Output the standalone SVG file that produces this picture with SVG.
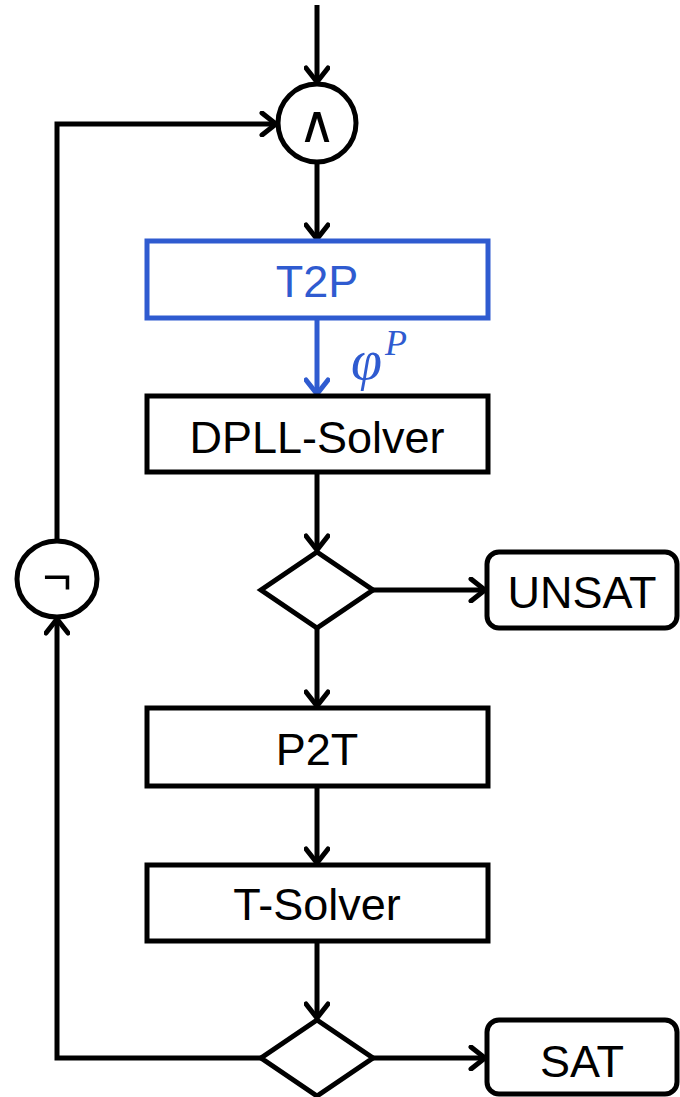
<svg xmlns="http://www.w3.org/2000/svg" width="680" height="1097" viewBox="0 0 680 1097">
<defs>
<marker id="ah" markerWidth="22" markerHeight="26" viewBox="0 0 22 26" refX="18" refY="13" orient="auto" markerUnits="userSpaceOnUse"><path d="M4,2 L18,13 L4,24" fill="none" stroke="#000" stroke-width="5" stroke-linecap="round" stroke-linejoin="miter"/></marker>
<marker id="ahb" markerWidth="22" markerHeight="26" viewBox="0 0 22 26" refX="18" refY="13" orient="auto" markerUnits="userSpaceOnUse"><path d="M4,2 L18,13 L4,24" fill="none" stroke="#2F5BD0" stroke-width="5" stroke-linecap="round"/></marker>
</defs>
<style>
.s{fill:#fff;stroke:#000;stroke-width:5}
.l{fill:none;stroke:#000;stroke-width:5}
.t{font-family:"Liberation Sans",Arial,sans-serif;font-size:45px;fill:#000;text-anchor:middle}
</style>
<rect width="680" height="1097" fill="#fff"/>
<g id="connectors">
<line class="l" x1="317" y1="5" x2="317" y2="82" marker-end="url(#ah)"/>
<line class="l" x1="317" y1="164" x2="317" y2="239" marker-end="url(#ah)"/>
<line x1="317" y1="320" x2="317" y2="394" stroke="#2F5BD0" stroke-width="5" marker-end="url(#ahb)"/>
<line class="l" x1="317" y1="474" x2="317" y2="550" marker-end="url(#ah)"/>
<line class="l" x1="373" y1="590" x2="485" y2="590" marker-end="url(#ah)"/>
<line class="l" x1="317" y1="628" x2="317" y2="706" marker-end="url(#ah)"/>
<line class="l" x1="317" y1="786" x2="317" y2="863" marker-end="url(#ah)"/>
<line class="l" x1="317" y1="942" x2="317" y2="1018" marker-end="url(#ah)"/>
<line class="l" x1="373" y1="1058" x2="485" y2="1058" marker-end="url(#ah)"/>
<polyline class="l" points="261,1058 57,1058 57,619" marker-end="url(#ah)"/>
<polyline class="l" points="57,539 57,124 276,124" marker-end="url(#ah)"/>
</g>
<g id="and">
<circle class="s" cx="317" cy="123" r="39"/>
<text x="317" y="142" font-family="DejaVu Sans,sans-serif" font-size="52" text-anchor="middle">∧</text>
</g>
<g id="t2p">
<rect x="147" y="241" width="341" height="77" fill="#fff" stroke="#2F5BD0" stroke-width="5"/>
<text class="t" x="317" y="297" style="fill:#2F5BD0">T2P</text>
</g>
<g id="phi">
<text x="351" y="379" font-family="Liberation Serif,serif" font-style="italic" font-size="56" fill="#2F5BD0">φ</text>
<text x="385" y="355" font-family="Liberation Serif,serif" font-style="italic" font-size="36" fill="#2F5BD0">P</text>
</g>
<g id="dpll">
<rect class="s" x="147" y="396" width="341" height="76"/>
<text class="t" x="317" y="453">DPLL-Solver</text>
</g>
<g id="dec1">
<polygon class="s" points="317,552 373,590 317,628 261,590"/>
</g>
<g id="unsat">
<rect class="s" x="487" y="552" width="190" height="76" rx="12"/>
<text class="t" x="582" y="608">UNSAT</text>
</g>
<g id="p2t">
<rect class="s" x="147" y="708" width="341" height="78"/>
<text class="t" x="317" y="765">P2T</text>
</g>
<g id="tsolver">
<rect class="s" x="147" y="865" width="341" height="76"/>
<text class="t" x="317" y="920">T-Solver</text>
</g>
<g id="dec2">
<polygon class="s" points="317,1020 373,1058 317,1096 261,1058"/>
</g>
<g id="sat">
<rect class="s" x="487" y="1020" width="190" height="74" rx="12"/>
<text class="t" x="582" y="1077">SAT</text>
</g>
<g id="not">
<ellipse class="s" cx="57" cy="579" rx="40" ry="38"/>
<text x="57" y="594" font-family="Liberation Sans,sans-serif" font-size="50" text-anchor="middle">¬</text>
</g>
</svg>
